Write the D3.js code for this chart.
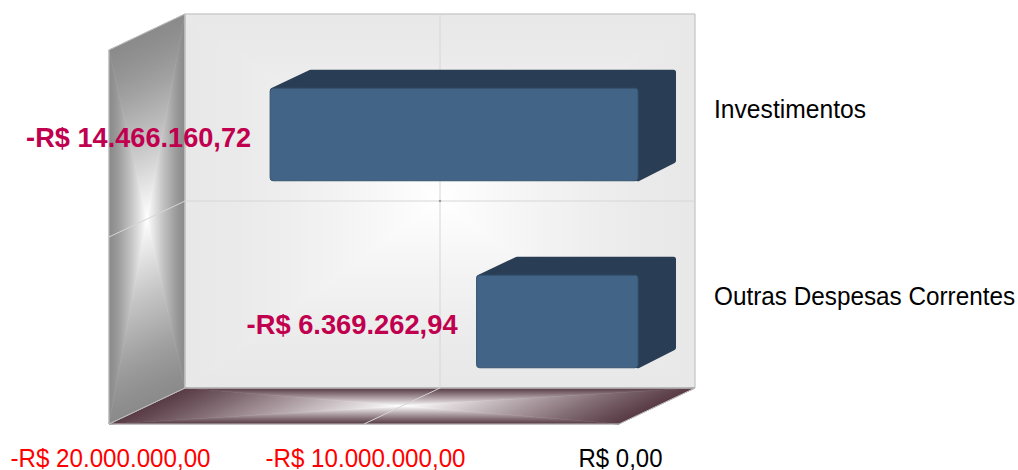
<!DOCTYPE html>
<html>
<head>
<meta charset="utf-8">
<script src="https://cdn.jsdelivr.net/npm/d3@7"></script>
<style>
  html, body { margin: 0; padding: 0; background: #fff; overflow: hidden; }
  text { font-family: "Liberation Sans", sans-serif; }
</style>
</head>
<body>
<div id="chart"></div>
<script>
const categories = ["Investimentos", "Outras Despesas Correntes"];
const values = [-14466160.72, -6369262.94];
const valueLabels = ["-R$ 14.466.160,72", "-R$ 6.369.262,94"];
const tickValues = [-20000000, -10000000, 0];
const tickLabels = ["-R$ 20.000.000,00", "-R$ 10.000.000,00", "R$ 0,00"];

const width = 1018, height = 470;
// depth of the 3d box
const depthX = 76, depthY = -36;

const x = d3.scaleLinear().domain([-20000000, 0]).range([109, 619]);
const y = d3.scaleBand().domain(categories).range([50, 424]).paddingInner(0.5).paddingOuter(0.25);

const svg = d3.select('#chart')
  .append('svg')
  .attr('width', width)
  .attr('height', height)
  .style('display', 'block');

const defs = svg.append('defs');
let gradId = 0;

// rectangular gradient: four triangles going from each edge into the centre
const rectGradient = (pts, edge, centre, power) => {
  const cx = d3.mean(pts, d => d[0]), cy = d3.mean(pts, d => d[1]);
  const color = d3.interpolateRgb(edge, centre);
  const g = svg.append('g');
  pts.forEach((a, i) => {
    const b = pts[(i + 1) % pts.length];
    const dx = b[0] - a[0], dy = b[1] - a[1];
    const t = ((cx - a[0]) * dx + (cy - a[1]) * dy) / (dx * dx + dy * dy);
    const id = 'grad' + (gradId++);
    const lg = defs.append('linearGradient')
      .attr('id', id)
      .attr('gradientUnits', 'userSpaceOnUse')
      .attr('x1', a[0] + t * dx).attr('y1', a[1] + t * dy)
      .attr('x2', cx).attr('y2', cy);
    d3.range(0, 1.01, 0.1).forEach(o => {
      lg.append('stop').attr('offset', o).attr('stop-color', color(Math.pow(o, power)));
    });
    g.append('polygon')
      .attr('points', [a, b, [cx, cy]].join(' '))
      .attr('fill', `url(#${id})`)
      .attr('stroke', `url(#${id})`)
      .attr('stroke-width', 0.6);
  });
};

const plotLeft = x.range()[0], plotRight = x.range()[1];
const plotTop = y.range()[0], plotBottom = y.range()[1];

// walls
const wallBack = [[plotLeft + depthX, plotTop + depthY], [plotRight + depthX, plotTop + depthY], [plotRight + depthX, plotBottom + depthY], [plotLeft + depthX, plotBottom + depthY]];
const wallLeft = [[plotLeft, plotTop], [plotLeft + depthX, plotTop + depthY], [plotLeft + depthX, plotBottom + depthY], [plotLeft, plotBottom]];
const wallFloor = [[plotLeft + depthX, plotBottom + depthY], [plotRight + depthX, plotBottom + depthY], [plotRight, plotBottom], [plotLeft, plotBottom]];

rectGradient(wallLeft, '#8a8a8a', '#ffffff', 1.3);
rectGradient(wallBack, '#e8e8e8', '#ffffff', 1.4);
rectGradient(wallFloor, '#583a44', '#ffffff', 1.1);

// outlines
[wallBack, wallLeft, wallFloor].forEach(p => {
  svg.append('polygon')
    .attr('points', p.join(' '))
    .attr('fill', 'none')
    .attr('stroke', '#bdbdbd')
    .attr('stroke-width', 1);
});

// grid lines
const mid = (plotTop + plotBottom) / 2;
const grid = svg.append('g').attr('stroke', '#d6d6d6').attr('stroke-width', 1).attr('fill', 'none');
grid.append('polyline')
  .attr('points', [[x(-10000000), plotBottom], [x(-10000000) + depthX, plotBottom + depthY], [x(-10000000) + depthX, plotTop + depthY]].join(' '));
grid.append('polyline')
  .attr('points', [[plotLeft, mid], [plotLeft + depthX, mid + depthY], [plotRight + depthX, mid + depthY]].join(' '));
svg.append('circle')
  .attr('cx', x(-10000000) + depthX).attr('cy', mid + depthY)
  .attr('r', 1.2)
  .attr('fill', '#9a9a9a');

// bars
const bars = svg.append('g').selectAll('g').data(categories).enter().append('g');
const frontX = depthX / 4, frontY = depthY / 4;
const backX = depthX * 3 / 4, backY = depthY * 3 / 4;
const corner = 2.5;

bars.each(function(d, i) {
  const g = d3.select(this);
  const x0 = x(values[i]) + frontX + 1, x1 = x(0) + frontX;
  const y0 = y(d) + frontY, y1 = y(d) + y.bandwidth() + frontY;
  const dx = backX - frontX, dy = backY - frontY;
  // top and side faces as one rounded shape behind the front
  g.append('polygon')
    .attr('points', [
      [x0 + corner, y0 + corner],
      [x0 + dx + corner, y0 + dy + corner],
      [x1 + dx - corner, y0 + dy + corner],
      [x1 + dx - corner, y1 + dy - corner],
      [x1, y1 - corner]
    ].join(' '))
    .attr('fill', '#293e54').attr('stroke', '#293e54')
    .attr('stroke-width', corner * 2).attr('stroke-linejoin', 'round');
  // front face
  g.append('rect')
    .attr('x', x0).attr('y', y0 + 0.5)
    .attr('width', x1 - x0).attr('height', y1 - y0 - 1)
    .attr('rx', 3)
    .attr('fill', '#416487').attr('stroke', '#36536f').attr('stroke-width', 1);
});

// value labels
const valueWidths = [225, 211];
svg.append('g').selectAll('text').data(categories).enter().append('text')
  .attr('x', (d, i) => x(values[i]) + frontX - 18)
  .attr('y', d => y(d) + y.bandwidth() / 2 + frontY + 12)
  .attr('text-anchor', 'end')
  .attr('font-size', 28)
  .attr('font-weight', 'bold')
  .attr('fill', '#c0004e')
  .attr('textLength', (d, i) => valueWidths[i])
  .attr('lengthAdjust', 'spacingAndGlyphs')
  .text((d, i) => valueLabels[i]);

// category labels, squeezed sideways like the original
const categoryScale = [0.948, 0.935];
svg.append('g').selectAll('text').data(categories).enter().append('text')
  .attr('transform', (d, i) => `translate(714,${y(d) + y.bandwidth() / 2 + depthY + 10}) scale(${categoryScale[i]},1)`)
  .attr('font-size', 26)
  .attr('fill', '#000')
  .text(d => d);

// x axis
const tickWidths = [200, 200, 84];
const xAxis = d3.axisBottom(x)
  .tickValues(tickValues)
  .tickFormat((d, i) => tickLabels[i])
  .tickSize(0);

const axisG = svg.append('g')
  .attr('transform', `translate(0,${plotBottom})`)
  .call(xAxis);
axisG.select('.domain').remove();
axisG.selectAll('text')
  .attr('x', 1)
  .attr('y', 43)
  .attr('dy', 0)
  .attr('font-size', 26)
  .style('font-family', '"Liberation Sans", sans-serif')
  .attr('fill', d => d < 0 ? '#ff0000' : '#000')
  .attr('textLength', (d, i) => tickWidths[i])
  .attr('lengthAdjust', 'spacingAndGlyphs');
</script>
</body>
</html>
